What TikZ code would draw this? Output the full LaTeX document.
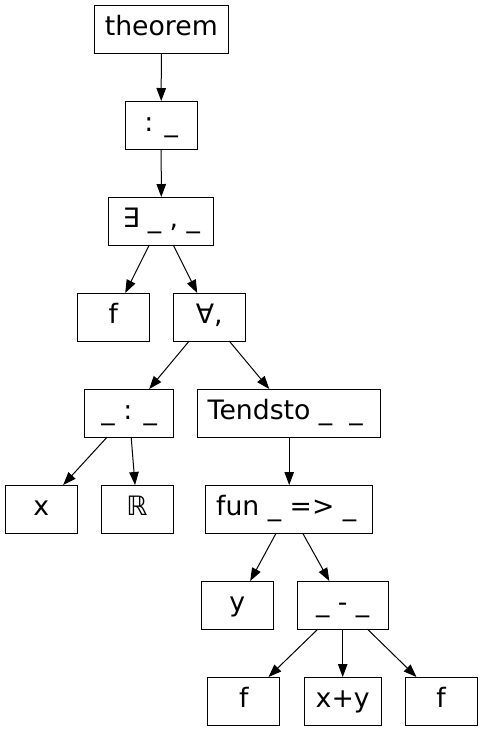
\documentclass[tikz,border=0pt]{standalone}
\usepackage{fontspec}
\setmainfont{DejaVu Sans}
\usetikzlibrary{arrows.meta}
\begin{document}
\begin{tikzpicture}[x=1pt,y=-1pt,
  box/.style={draw, line width=1pt, rectangle, minimum height=48pt, inner sep=1pt, outer sep=0pt,
    text height=20.3pt, text depth=6.4pt, font=\fontsize{26.7}{32}\selectfont},
  edge/.style={line width=1pt, -{Triangle[length=13pt,width=9.5pt]}}]
\useasboundingbox (0,0) rectangle (483,731);
\node[box, minimum width=133.5pt] (thm) at (161.3,29) {theorem};
\node[box, minimum width=72pt] (colon) at (161.2,125) {: \_};
\node[box, minimum width=105.3pt] (ex) at (161.3,221) {∃ \_ , \_};
\node[box, minimum width=72pt] (f1) at (113.2,317) {f};
\node[box, minimum width=72pt] (all) at (209.2,317) {∀,};
\node[box, minimum width=89pt] (typ) at (129.2,413) {\_ : \_};
\node[box, minimum width=183pt] (tend) at (289.2,413) {Tendsto \_\hspace{17pt}\_\hspace*{8pt}};
\node[box, minimum width=72pt] (x) at (41.2,509) {x};
\node[box, minimum width=72pt] (R) at (137,509) {ℝ};
\node[box, minimum width=167pt] (fun) at (289.2,509) {fun \_ => \_\hspace*{6pt}};
\node[box, minimum width=72pt] (y) at (237.2,605) {y};
\node[box, minimum width=91pt] (sub) at (342.7,605) {\_ - \_};
\node[box, minimum width=72pt] (f2) at (243.8,701) {f};
\node[box, minimum width=77pt] (xy) at (342.7,701) {x+y};
\node[box, minimum width=72pt] (f3) at (441,701) {f};
\draw[edge] (thm) -- (colon);
\draw[edge] (colon) -- (ex);
\draw[edge] (ex) -- (f1);
\draw[edge] (ex) -- (all);
\draw[edge] (all) -- (typ);
\draw[edge] (all) -- (tend);
\draw[edge] (typ) -- (x);
\draw[edge] (typ) -- (R);
\draw[edge] (tend) -- (fun);
\draw[edge] (fun) -- (y);
\draw[edge] (fun) -- (sub);
\draw[edge] (sub) -- (f2);
\draw[edge] (sub) -- (xy);
\draw[edge] (sub) -- (f3);
\end{tikzpicture}
\end{document}
